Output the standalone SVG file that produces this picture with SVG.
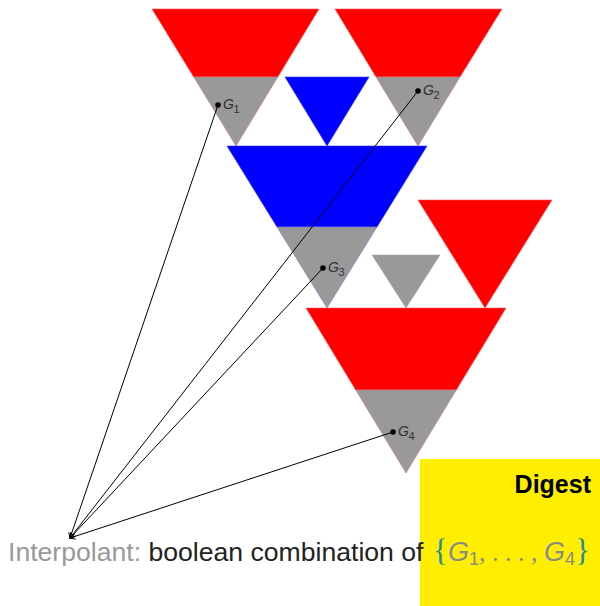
<svg xmlns="http://www.w3.org/2000/svg" width="600" height="606" viewBox="0 0 600 606">
<defs>
<style>
.red{fill:#ff0000;stroke:#ff5555;stroke-width:0.6}
.gray{fill:#999999;stroke:#d08080;stroke-width:0.6}
.grayb{fill:#999999;stroke:#8080d0;stroke-width:0.6}
.grayp{fill:#999999;stroke:#aaaaaa;stroke-width:0.6}
.blue{fill:#0000ff;stroke:#3333ff;stroke-width:0.6}
.lbl{font-family:"Liberation Sans",Arial,sans-serif;font-style:italic;font-size:14px;fill:#333}
.sub{font-family:"Liberation Sans",Arial,sans-serif;font-size:11px;fill:#333}
.conn{stroke:#000;stroke-width:1;fill:none;marker-end:url(#arr)}
</style>
<marker id="arr" viewBox="-6 -4 8 8" markerWidth="8" markerHeight="8" refX="0" refY="0" orient="auto" markerUnits="userSpaceOnUse">
<path d="M-5,-3 L0,0 L-5,3" fill="none" stroke="#000" stroke-width="1"/>
</marker>
</defs>
<rect width="600" height="606" fill="#fff"/>

<g id="tri-top-left">
<polygon class="red" points="152,9 319,9 277.8,77 193.7,77"/>
<polygon class="gray" points="193.7,77 277.8,77 236,146"/>
</g>
<g id="tri-top-right">
<polygon class="red" points="335,9 502,9 460,77 376,77"/>
<polygon class="gray" points="376,77 460,77 418,146"/>
</g>
<g id="tri-blue-small">
<polygon class="blue" points="285,77 369,77 327,146"/>
</g>
<g id="tri-blue-big">
<polygon class="blue" points="227,146 427,146 377,227 277,227"/>
<polygon class="grayb" points="277,227 377,227 327,308"/>
</g>
<g id="tri-gray-small">
<polygon class="grayp" points="372,255 440,255 406,308"/>
</g>
<g id="tri-red-right">
<polygon class="red" points="418,200 552,200 485,308"/>
</g>
<g id="tri-red-bottom">
<polygon class="red" points="306,308 506,308 456.3,390 355.7,390"/>
<polygon class="gray" points="355.7,390 456.3,390 406,473"/>
</g>

<g id="digest">
<rect x="420" y="459" width="180" height="147" fill="#ffee00"/>
<text x="591" y="493" text-anchor="end" font-family="Liberation Sans,Arial,sans-serif" font-weight="bold" font-size="25" fill="#000">Digest</text>
</g>

<g id="connectors">
<line class="conn" x1="218" y1="105" x2="70" y2="538"/>
<line class="conn" x1="418" y1="91" x2="70" y2="538"/>
<line class="conn" x1="323" y1="268" x2="70" y2="538"/>
<line class="conn" x1="393" y1="432" x2="70" y2="538"/>
</g>

<g id="G1">
<circle cx="218" cy="105" r="2.8" fill="#000"/>
<text class="lbl" x="223" y="109">G</text><text class="sub" x="233.5" y="113">1</text>
</g>
<g id="G2">
<circle cx="418" cy="91" r="2.8" fill="#000"/>
<text class="lbl" x="423" y="95">G</text><text class="sub" x="433.5" y="99">2</text>
</g>
<g id="G3">
<circle cx="323" cy="268" r="2.8" fill="#000"/>
<text class="lbl" x="328" y="272">G</text><text class="sub" x="338.5" y="276">3</text>
</g>
<g id="G4">
<circle cx="393" cy="432" r="2.8" fill="#000"/>
<text class="lbl" x="398" y="436">G</text><text class="sub" x="408.5" y="440">4</text>
</g>

<g id="interpolant">
<text x="8" y="561" font-family="Liberation Sans,Arial,sans-serif" font-size="26.6"><tspan fill="#999999">Interpolant:</tspan><tspan fill="#222222"> boolean combination of</tspan></text>
<text y="561" font-size="26">
<tspan x="433" font-family="Liberation Serif,serif" font-size="31" fill="#2a8a9c">{</tspan><tspan font-family="Liberation Sans,Arial,sans-serif" font-style="italic" font-size="27" fill="#8a8a8a">G</tspan><tspan font-family="Liberation Sans,Arial,sans-serif" font-size="18" dy="4" fill="#8a8a8a">1</tspan><tspan font-family="Liberation Serif,serif" dy="-4" fill="#8a8a8a">, . . . , </tspan><tspan font-family="Liberation Sans,Arial,sans-serif" font-style="italic" font-size="27" fill="#8a8a8a">G</tspan><tspan font-family="Liberation Sans,Arial,sans-serif" font-size="18" dy="4" fill="#8a8a8a">4</tspan><tspan font-family="Liberation Serif,serif" font-size="31" dy="-4" fill="#2a8a9c">}</tspan>
</text>
</g>
</svg>
